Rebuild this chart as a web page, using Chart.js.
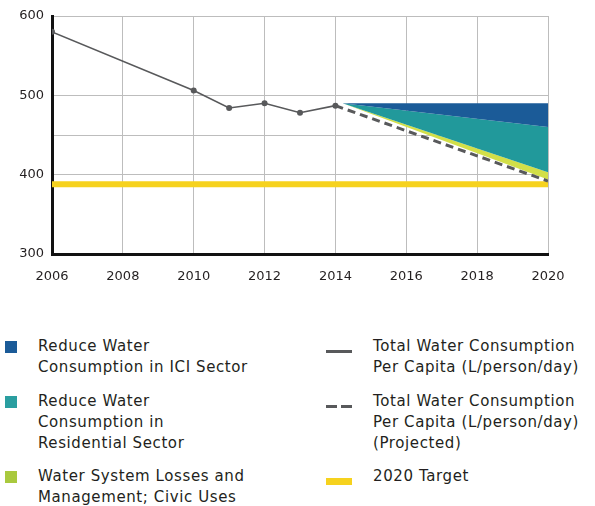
<!DOCTYPE html>
<html>
<head>
<meta charset="utf-8">
<script src="https://cdn.jsdelivr.net/npm/chart.js@4/dist/chart.umd.min.js"></script>
<style>
  html, body { margin: 0; padding: 0; background: #fff; }
  body { width: 595px; height: 506px; position: relative; overflow: hidden; font-family: "DejaVu Sans", sans-serif; color: #222; }
  #wrap { position: absolute; left: 0; top: 0; width: 595px; height: 292px; }
  .lg { position: absolute; font-size: 15px; line-height: 21px; letter-spacing: 0.6px; color: #231f20; white-space: nowrap; }
  .sw { position: absolute; }
</style>
</head>
<body>
<div id="wrap"><canvas id="c"></canvas></div>
<div id="legend"></div>
<script>
// ---- data ----
const actualYears = [2006, 2010, 2011, 2012, 2013, 2014];
const actualValues = [580, 506, 484, 490, 478, 487];
const projectedYears = [2014, 2020];
const projectedValues = [487, 392];
const targetYears = [2006, 2020];
const targetValues = [388, 388];
const areaYears = [2014.2, 2020];
const iciTop = [490, 490];
const iciBottom = [490, 460];
const residentialBottom = [490, 403];
const lossesBottom = [490, 394];
const xTickValues = [2006, 2008, 2010, 2012, 2014, 2016, 2018, 2020];
const yTickLabels = [300, 400, 500, 600];
const yExtraGrid = [450];

const seriesNames = [
  "Reduce Water Consumption in ICI Sector",
  "Reduce Water Consumption in Residential Sector",
  "Water System Losses and Management; Civic Uses",
  "Total Water Consumption Per Capita (L/person/day)",
  "Total Water Consumption Per Capita (L/person/day) (Projected)",
  "2020 Target"
];
const legendLines = [
  ["Reduce Water", "Consumption in ICI Sector"],
  ["Reduce Water", "Consumption in", "Residential Sector"],
  ["Water System Losses and", "Management; Civic Uses"],
  ["Total Water Consumption", "Per Capita (L/person/day)"],
  ["Total Water Consumption", "Per Capita (L/person/day)", "(Projected)"],
  ["2020 Target"]
];

const COL_ICI = "#1b5b98";
const COL_RES = "#21999b";
const COL_LOSS = "#d2df48";
const COL_LOSS_LEG = "#a9c93e";
const COL_LINE = "#58595b";
const COL_TARGET = "#f6d21e";

const pts = (xs, ys) => xs.map((x, i) => ({ x: x, y: ys[i] }));

const ctx = document.getElementById('c');
new Chart(ctx, {
  type: 'line',
  data: {
    datasets: [
      { label: 'lossesBottom', data: pts(areaYears, lossesBottom), borderWidth: 0, pointRadius: 0, fill: false, order: 5 },
      { label: seriesNames[2], data: pts(areaYears, residentialBottom), borderWidth: 0, pointRadius: 0, fill: 0, backgroundColor: COL_LOSS, order: 4 },
      { label: seriesNames[1], data: pts(areaYears, iciBottom), borderWidth: 0, pointRadius: 0, fill: 1, backgroundColor: COL_RES, order: 3 },
      { label: seriesNames[0], data: pts(areaYears, iciTop), borderWidth: 0, pointRadius: 0, fill: 2, backgroundColor: COL_ICI, order: 2 },
      { label: seriesNames[5], data: pts(targetYears, targetValues), borderColor: COL_TARGET, borderWidth: 6, pointRadius: 0, fill: false, borderCapStyle: 'butt', order: 1 },
      { label: seriesNames[4], data: pts(projectedYears, projectedValues), borderColor: COL_LINE, borderWidth: 3, borderDash: [8, 5], pointRadius: 0, fill: false, order: 0 },
      { label: seriesNames[3], data: pts(actualYears, actualValues), borderColor: COL_LINE, borderWidth: 1.6, pointRadius: 3, pointBackgroundColor: COL_LINE, pointBorderWidth: 0, fill: false, order: 0 }
    ]
  },
  options: {
    responsive: true,
    maintainAspectRatio: false,
    animation: false,
    layout: { padding: { top: 16, right: 47, left: 0, bottom: 0 } },
    plugins: { legend: { display: false }, tooltip: { enabled: false } },
    elements: { line: { tension: 0 } },
    scales: {
      x: {
        type: 'linear', min: 2006, max: 2020,
        afterBuildTicks: s => { s.ticks = xTickValues.map(v => ({ value: v })); },
        afterFit: s => { s.height = 38; },
        ticks: { callback: v => String(v), padding: 15, color: '#231f20', font: { family: 'DejaVu Sans', size: 13 }, maxRotation: 0 },
        grid: { color: '#bdbdbd', lineWidth: 1, drawTicks: false },
        border: { color: '#111', width: 3 }
      },
      y: {
        min: 300, max: 600,
        afterBuildTicks: s => { s.ticks = yTickLabels.concat(yExtraGrid).sort((a, b) => a - b).map(v => ({ value: v })); },
        afterFit: s => { s.width = 52; },
        ticks: { callback: v => yTickLabels.includes(v) ? String(v) : '', padding: 8, color: '#231f20', font: { family: 'DejaVu Sans', size: 13 } },
        grid: { color: '#bdbdbd', lineWidth: 1, drawTicks: false },
        border: { color: '#111', width: 3 }
      }
    }
  }
});

// ---- HTML legend ----
const legend = document.getElementById('legend');
const rowCenters = [347, 402, 477];
const markers = [
  { kind: 'sq', color: COL_ICI },
  { kind: 'sq', color: "#2a9ea0" },
  { kind: 'sq', color: COL_LOSS_LEG },
  { kind: 'line', color: COL_LINE },
  { kind: 'dash', color: COL_LINE },
  { kind: 'bar', color: COL_TARGET }
];
legendLines.forEach((lines, i) => {
  const col = i < 3 ? 0 : 1;
  const row = i % 3;
  const cy = rowCenters[row];
  const t = document.createElement('div');
  t.className = 'lg';
  t.style.left = (col === 0 ? 38 : 373) + 'px';
  t.style.top = (cy - 11) + 'px';
  t.innerHTML = lines.join('<br>');
  legend.appendChild(t);
  const m = markers[i];
  const sw = document.createElement('div');
  sw.className = 'sw';
  if (m.kind === 'sq') {
    Object.assign(sw.style, { left: '5px', top: (cy - 6) + 'px', width: '12px', height: '12px', background: m.color });
  } else if (m.kind === 'line') {
    Object.assign(sw.style, { left: '326px', top: (cy + 3) + 'px', width: '26px', height: '3px', background: m.color });
  } else if (m.kind === 'dash') {
    Object.assign(sw.style, { left: '326px', top: (cy + 3) + 'px', width: '26px', height: '3px',
      background: 'linear-gradient(to right, ' + m.color + ' 0 11px, transparent 11px 15px, ' + m.color + ' 15px 26px)' });
  } else {
    Object.assign(sw.style, { left: '326px', top: (cy + 1) + 'px', width: '26px', height: '7px', background: m.color });
  }
  legend.appendChild(sw);
});
</script>
</body>
</html>
